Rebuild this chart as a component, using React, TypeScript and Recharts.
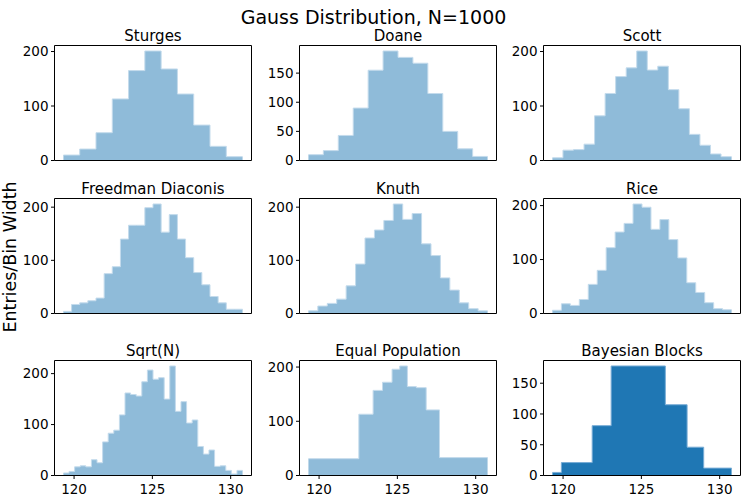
import React from "react";
import { AreaChart, Area, XAxis, YAxis, ReferenceArea } from "recharts";

const FONT = "DejaVu Sans, Verdana, sans-serif";

// sample range = first and last bin edge, shared x range of all panels
const DATA_MIN = 119.32;
const DATA_MAX = 130.76;
const X_DOMAIN = [118.75, 131.33];
const X_TICKS = [120, 125, 130];

// entries / bin width
const sturges = [10, 21, 51, 113, 165, 201, 168, 122, 65, 26, 7];
const doane = [10, 17, 43, 90, 155, 188, 177, 167, 115, 50, 20, 7];
const scott = [5, 19, 20, 30, 82, 123, 154, 170, 201, 166, 173, 130, 95, 48, 28, 12, 7];
const freedman = [4, 17, 20, 24, 29, 75, 88, 140, 166, 166, 199, 206, 153, 186, 140, 105, 77, 54, 32, 20, 8, 8];
const knuth = [5, 14, 19, 27, 52, 93, 142, 157, 175, 206, 177, 188, 131, 109, 67, 44, 20, 9, 5];
const rice = [6, 18, 15, 26, 54, 80, 122, 151, 167, 203, 197, 156, 174, 137, 103, 57, 39, 20, 9, 7];
const sqrtN = [
  5, 8, 17, 19, 17, 31, 25, 66, 83, 89, 119, 162, 159, 156, 184, 207,
  189, 192, 150, 215, 126, 145, 103, 109, 57, 42, 50, 18, 19, 10, 3, 10,
];

// variable width bins
const equalPopEdges = [119.32, 122.54, 123.45, 124.05, 124.66, 125.15, 125.64, 126.21, 126.84, 127.69, 130.76];
const equalPop = [31, 113, 157, 172, 196, 202, 164, 162, 121, 33];
const bayesEdges = [119.32, 119.89, 121.86, 123.07, 126.53, 127.92, 128.98, 130.76];
const bayes = [5, 21, 81, 178, 115, 46, 12];

// equal width bins over the sample range
function uniformEdges(n: number) {
  const w = (DATA_MAX - DATA_MIN) / n;
  return Array.from({ length: n + 1 }, (_, i) => DATA_MIN + i * w);
}

const Y_AXIS_W = 45;
const BOX_W = 197;
const BOX_H = 115;
const PAD_TOP = 8; // room above the frame so the top tick label is not clipped
const COL_LEFT = [9, 254, 498];
const ROW_TOP = [45, 198, 360];

const tickStyle = { fill: "#000", fontSize: 13.5, fontFamily: FONT };

type Panel = {
  title: string;
  edges: number[];
  heights: number[];
  yTicks: number[];
  solid?: boolean;
};

const panels: Panel[] = [
  { title: "Sturges", edges: uniformEdges(sturges.length), heights: sturges, yTicks: [0, 100, 200] },
  { title: "Doane", edges: uniformEdges(doane.length), heights: doane, yTicks: [0, 50, 100, 150] },
  { title: "Scott", edges: uniformEdges(scott.length), heights: scott, yTicks: [0, 100, 200] },
  { title: "Freedman Diaconis", edges: uniformEdges(freedman.length), heights: freedman, yTicks: [0, 100, 200] },
  { title: "Knuth", edges: uniformEdges(knuth.length), heights: knuth, yTicks: [0, 100, 200] },
  { title: "Rice", edges: uniformEdges(rice.length), heights: rice, yTicks: [0, 100, 200] },
  { title: "Sqrt(N)", edges: uniformEdges(sqrtN.length), heights: sqrtN, yTicks: [0, 100, 200] },
  { title: "Equal Population", edges: equalPopEdges, heights: equalPop, yTicks: [0, 100, 200] },
  { title: "Bayesian Blocks", edges: bayesEdges, heights: bayes, yTicks: [0, 50, 100, 150], solid: true },
];

function Histogram({ panel, left, top, showX }: { panel: Panel; left: number; top: number; showX: boolean }) {
  const { edges, heights, yTicks, solid } = panel;
  // one point per bin edge, last edge repeats the last height for the step
  const data = edges.map((x, i) => ({ x, y: heights[Math.min(i, heights.length - 1)] }));
  const yMax = Math.max(...heights) * 1.05;
  const xAxisH = showX ? 26 : 12;

  return (
    <div style={{ position: "absolute", left, top: top - PAD_TOP }}>
      <AreaChart
        width={Y_AXIS_W + BOX_W + 1}
        height={PAD_TOP + BOX_H + xAxisH + 1}
        data={data}
        margin={{ top: PAD_TOP + 0.5, right: 0.5, bottom: 0.5, left: 0.5 }}
      >
        <XAxis
          dataKey="x"
          type="number"
          domain={X_DOMAIN}
          ticks={X_TICKS}
          interval={0}
          allowDataOverflow
          height={xAxisH}
          axisLine={false}
          tickLine={{ stroke: "#000" }}
          tickSize={3.5}
          tickMargin={5}
          tick={showX ? tickStyle : false}
        />
        <YAxis
          type="number"
          domain={[0, yMax]}
          ticks={yTicks}
          interval={0}
          allowDataOverflow
          width={Y_AXIS_W}
          axisLine={false}
          tickLine={{ stroke: "#000" }}
          tickSize={3.5}
          tickMargin={2.5}
          tick={tickStyle}
        />
        <Area
          type="stepAfter"
          dataKey="y"
          fill="#1f77b4"
          fillOpacity={solid ? 1 : 0.5}
          stroke={solid ? "#78acd6" : "#c4dbec"}
          strokeWidth={1}
          isAnimationActive={false}
        />
        <ReferenceArea
          x1={X_DOMAIN[0]}
          x2={X_DOMAIN[1]}
          y1={0}
          y2={yMax}
          fill="none"
          stroke="#000"
          strokeWidth={1}
          fillOpacity={0}
        />
      </AreaChart>
    </div>
  );
}

export default function App() {
  return (
    <div
      style={{
        position: "absolute",
        left: 0,
        top: 0,
        width: 747,
        height: 498,
        background: "#fff",
        fontFamily: FONT,
      }}
    >
      <svg width={747} height={498} style={{ position: "absolute", left: 0, top: 0 }}>
        <text x={373.5} y={24} textAnchor="middle" fontSize={19} fontFamily={FONT} fill="#000">
          Gauss Distribution, N=1000
        </text>
        <text transform="translate(16, 257) rotate(-90)" textAnchor="middle" fontSize={17.5} fontFamily={FONT} fill="#000">
          Entries/Bin Width
        </text>
        {panels.map((p, i) => {
          const boxLeft = COL_LEFT[i % 3] + 0.5 + Y_AXIS_W;
          const boxTop = ROW_TOP[Math.floor(i / 3)] + 0.5;
          return (
            <text key={p.title} x={boxLeft + BOX_W / 2} y={boxTop - 5} textAnchor="middle" fontSize={15} fontFamily={FONT} fill="#000">
              {p.title}
            </text>
          );
        })}
      </svg>
      {panels.map((p, i) => (
        <Histogram key={p.title} panel={p} left={COL_LEFT[i % 3]} top={ROW_TOP[Math.floor(i / 3)]} showX={i >= 6} />
      ))}
    </div>
  );
}
